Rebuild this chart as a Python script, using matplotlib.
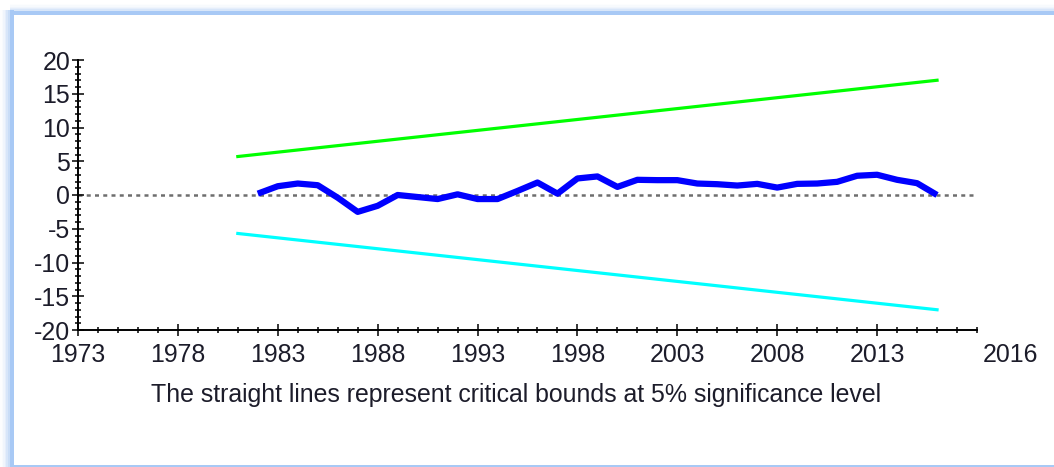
import matplotlib
matplotlib.use("Agg")
import matplotlib.pyplot as plt
from matplotlib.patches import Rectangle
from matplotlib.ticker import MultipleLocator

# CUSUM of recursive residuals and its 5% critical bounds
years = list(range(1982, 2017))
cusum = [0.2, 1.3, 1.7, 1.45, -0.4, -2.5, -1.6, 0.0, -0.3, -0.6,
         0.1, -0.6, -0.6, 0.6, 1.85, 0.2, 2.45, 2.75, 1.2, 2.25,
         2.2, 2.2, 1.7, 1.6, 1.4, 1.65, 1.1, 1.65, 1.7, 1.95,
         2.85, 3.0, 2.25, 1.75, 0.0]
bound_years = [1981, 2016]
upper_bound = [5.7, 17.0]
lower_bound = [-5.7, -17.0]

x_ticks = [1973, 1978, 1983, 1988, 1993, 1998, 2003, 2008, 2013]
x_tick_labels = ["1973", "1978", "1983", "1988", "1993", "1998", "2003", "2008", "2013"]
y_ticks = [-20, -15, -10, -5, 0, 5, 10, 15, 20]
end_label = "2016"
caption = "The straight lines represent critical bounds at 5% significance level"

plt.rcParams["font.family"] = ["Liberation Sans", "DejaVu Sans"]
plt.rcParams["axes.unicode_minus"] = False

W, H = 1054, 467
fig = plt.figure(figsize=(W / 100, H / 100), dpi=100)
fig.patch.set_facecolor("white")

# panel frame with soft shadow on the left and top edges
frame_col = (0.66, 0.79, 0.96)
for i, a in enumerate([0.08, 0.15, 0.25, 0.4, 0.6, 0.85]):
    fig.add_artist(Rectangle((i * 1.5 / W, 0), 14 / W - i * 1.5 / W, 1 - 10 / H,
                             transform=fig.transFigure, color=frame_col,
                             alpha=a * 0.35, lw=0, zorder=0))
fig.add_artist(Rectangle((10 / W, 0), 3.5 / W, 1 - 10 / H, transform=fig.transFigure,
                         color=frame_col, lw=0, zorder=0))
for i, a in enumerate([0.08, 0.15, 0.25, 0.4, 0.6, 0.85]):
    fig.add_artist(Rectangle((10 / W, 1 - 15 / H), 1, (15 - 4 - i * 1.3) / H,
                             transform=fig.transFigure, color=frame_col,
                             alpha=a * 0.35, lw=0, zorder=0))
fig.add_artist(Rectangle((10 / W, 1 - 15 / H), 1, 4.5 / H, transform=fig.transFigure,
                         color=frame_col, lw=0, zorder=0))
fig.add_artist(Rectangle((10 / W, 0), 1, 2 / H, transform=fig.transFigure,
                         color=frame_col, lw=0, zorder=0))

ax = fig.add_axes([78 / W, (H - 330) / H, (977 - 78) / W, (330 - 60) / H])
ax.set_facecolor("none")

ax.axhline(0, color="#6e6e6e", lw=1.8, linestyle=(0, (1.6, 1.7)), zorder=1)
ax.plot(bound_years, upper_bound, color="#00ff00", lw=2.3, zorder=2)
ax.plot(bound_years, lower_bound, color="#00ffff", lw=2.3, zorder=2)
ax.plot(years, cusum, color="#0000ff", lw=4.5, solid_joinstyle="round",
        solid_capstyle="butt", zorder=3)

ax.set_xlim(1973, 2018)
ax.set_ylim(-20, 20)

for s in ["top", "right"]:
    ax.spines[s].set_visible(False)
for s in ["left", "bottom"]:
    ax.spines[s].set_linewidth(1.4)
    ax.spines[s].set_color("black")

ax.set_xticks(x_ticks)
ax.set_xticklabels(x_tick_labels)
ax.xaxis.set_minor_locator(MultipleLocator(1))
ax.set_yticks(y_ticks)
ax.set_yticklabels([str(v) for v in y_ticks])
ax.yaxis.set_minor_locator(MultipleLocator(1))

text_col = "#1c1c2a"
fs = 17.9
ax.tick_params(axis="both", which="major", direction="inout", length=9, width=1.1,
               labelsize=fs, labelcolor=text_col, color="black")
ax.tick_params(axis="both", which="minor", direction="inout", length=5, width=1.1,
               color="black")
ax.tick_params(axis="x", which="major", pad=5)
ax.tick_params(axis="y", which="major", pad=1)

ax.annotate(end_label, xy=(2019.7, 0), xycoords=("data", "axes fraction"),
            xytext=(0, -32), textcoords="offset pixels", ha="center",
            va="baseline", fontsize=fs, color=text_col, annotation_clip=False)

fig.text(516 / W, (H - 402) / H, caption, ha="center", va="baseline",
         fontsize=fs, color=text_col)

fig.savefig("out.png", dpi=100)
